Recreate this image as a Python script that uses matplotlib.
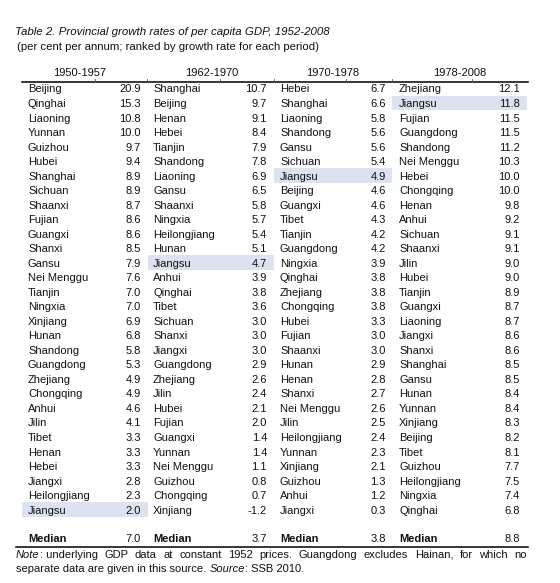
import matplotlib.pyplot as plt
from matplotlib.patches import Rectangle

plt.rcParams['font.family'] = ['Liberation Sans', 'DejaVu Sans']

periods = ['1950-1957', '1962-1970', '1970-1978', '1978-2008']

names_5057 = ['Beijing', 'Qinghai', 'Liaoning', 'Yunnan', 'Guizhou', 'Hubei', 'Shanghai',
              'Sichuan', 'Shaanxi', 'Fujian', 'Guangxi', 'Shanxi', 'Gansu', 'Nei Menggu',
              'Tianjin', 'Ningxia', 'Xinjiang', 'Hunan', 'Shandong', 'Guangdong', 'Zhejiang',
              'Chongqing', 'Anhui', 'Jilin', 'Tibet', 'Henan', 'Hebei', 'Jiangxi',
              'Heilongjiang', 'Jiangsu']
vals_5057 = [20.9, 15.3, 10.8, 10.0, 9.7, 9.4, 8.9, 8.9, 8.7, 8.6, 8.6, 8.5, 7.9, 7.6,
             7.0, 7.0, 6.9, 6.8, 5.8, 5.3, 4.9, 4.9, 4.6, 4.1, 3.3, 3.3, 3.3, 2.8, 2.3, 2.0]

names_6270 = ['Shanghai', 'Beijing', 'Henan', 'Hebei', 'Tianjin', 'Shandong', 'Liaoning',
              'Gansu', 'Shaanxi', 'Ningxia', 'Heilongjiang', 'Hunan', 'Jiangsu', 'Anhui',
              'Qinghai', 'Tibet', 'Sichuan', 'Shanxi', 'Jiangxi', 'Guangdong', 'Zhejiang',
              'Jilin', 'Hubei', 'Fujian', 'Guangxi', 'Yunnan', 'Nei Menggu', 'Guizhou',
              'Chongqing', 'Xinjiang']
vals_6270 = [10.7, 9.7, 9.1, 8.4, 7.9, 7.8, 6.9, 6.5, 5.8, 5.7, 5.4, 5.1, 4.7, 3.9,
             3.8, 3.6, 3.0, 3.0, 3.0, 2.9, 2.6, 2.4, 2.1, 2.0, 1.4, 1.4, 1.1, 0.8, 0.7, -1.2]

names_7078 = ['Hebei', 'Shanghai', 'Liaoning', 'Shandong', 'Gansu', 'Sichuan', 'Jiangsu',
              'Beijing', 'Guangxi', 'Tibet', 'Tianjin', 'Guangdong', 'Ningxia', 'Qinghai',
              'Zhejiang', 'Chongqing', 'Hubei', 'Fujian', 'Shaanxi', 'Hunan', 'Henan',
              'Shanxi', 'Nei Menggu', 'Jilin', 'Heilongjiang', 'Yunnan', 'Xinjiang',
              'Guizhou', 'Anhui', 'Jiangxi']
vals_7078 = [6.7, 6.6, 5.8, 5.6, 5.6, 5.4, 4.9, 4.6, 4.6, 4.3, 4.2, 4.2, 3.9, 3.8,
             3.8, 3.8, 3.3, 3.0, 3.0, 2.9, 2.8, 2.7, 2.6, 2.5, 2.4, 2.3, 2.1, 1.3, 1.2, 0.3]

names_7808 = ['Zhejiang', 'Jiangsu', 'Fujian', 'Guangdong', 'Shandong', 'Nei Menggu', 'Hebei',
              'Chongqing', 'Henan', 'Anhui', 'Sichuan', 'Shaanxi', 'Jilin', 'Hubei',
              'Tianjin', 'Guangxi', 'Liaoning', 'Jiangxi', 'Shanxi', 'Shanghai', 'Gansu',
              'Hunan', 'Yunnan', 'Xinjiang', 'Beijing', 'Tibet', 'Guizhou', 'Heilongjiang',
              'Ningxia', 'Qinghai']
vals_7808 = [12.1, 11.8, 11.5, 11.5, 11.2, 10.3, 10.0, 10.0, 9.8, 9.2, 9.1, 9.1, 9.0, 9.0,
             8.9, 8.7, 8.7, 8.6, 8.6, 8.5, 8.5, 8.4, 8.4, 8.3, 8.2, 8.1, 7.7, 7.5, 7.4, 6.8]

medians = [7.0, 3.7, 3.8, 8.8]
highlight = 'Jiangsu'

columns = [(names_5057, vals_5057), (names_6270, vals_6270),
           (names_7078, vals_7078), (names_7808, vals_7808)]

# layout (pixel coordinates, y measured from top)
name_x = [28, 153, 280, 399]
val_x = [141, 267, 386, 520]
box_x = [(22, 148), (148, 274), (274, 392), (392, 527)]
head_x = [80, 212, 333, 460]
row0, step = 88.5, 14.52
median_y = 538
base = 4.0   # baseline offset below row centre
fs = 8
ink = '#111111'

fig = plt.figure(figsize=(5.6, 5.83), dpi=100)
ax = fig.add_axes([0, 0, 1, 1])
ax.set_xlim(0, 560)
ax.set_ylim(583, 0)
ax.axis('off')

ax.text(15, 31 + base, 'Table 2. Provincial growth rates of per capita GDP, 1952-2008',
        fontsize=8.25, style='italic', va='baseline', color=ink)
ax.text(17, 46 + base, '(per cent per annum; ranked by growth rate for each period)',
        fontsize=8.2, va='baseline', color=ink)

for i, p in enumerate(periods):
    ax.text(head_x[i], 72.5 + base, p, fontsize=fs, ha='center', va='baseline', color=ink)

ax.plot([22, 528], [81.5, 81.5], color='black', lw=1.1)
for tx in [95, 147, 220, 274, 346, 392, 472]:
    ax.plot([tx, tx], [79, 81.5], color='#555555', lw=0.6)

for c, (names, vals) in enumerate(columns):
    for r, (n, v) in enumerate(zip(names, vals)):
        y = row0 + r * step
        if n == highlight:
            x0, x1 = box_x[c]
            ax.add_patch(Rectangle((x0, y - 7.3), x1 - x0, 14.6, color='#dce2f0', lw=0, zorder=0))
        ax.text(name_x[c], y + base, n, fontsize=fs, va='baseline', color=ink)
        ax.text(val_x[c], y + base, f'{v:.1f}', fontsize=fs, va='baseline', ha='right', color=ink)
    ax.text(name_x[c], median_y + base, 'Median', fontsize=fs, va='baseline', weight='bold',
            color=ink)
    ax.text(val_x[c], median_y + base, f'{medians[c]:.1f}', fontsize=fs, va='baseline',
            ha='right', color=ink)

ax.plot([16, 528], [547, 547], color='black', lw=1.1)

# justified first note line
note1 = [('Note', 'italic'), (': underlying', 'normal'), ('GDP', 'normal'), ('data', 'normal'),
         ('at', 'normal'), ('constant', 'normal'), ('1952', 'normal'), ('prices.', 'normal'),
         ('Guangdong', 'normal'), ('excludes', 'normal'), ('Hainan,', 'normal'),
         ('for', 'normal'), ('which', 'normal'), ('no', 'normal')]
fig.canvas.draw()
renderer = fig.canvas.get_renderer()
inv = ax.transData.inverted()
words = []
for w, st in note1:
    t = ax.text(16, 553.5 + base, w, fontsize=fs, style=st, va='baseline', color=ink)
    bb = t.get_window_extent(renderer)
    width = inv.transform((bb.x1, 0))[0] - inv.transform((bb.x0, 0))[0]
    words.append((t, width))
# "Note" + ": underlying" stay together
groups = [[words[0], words[1]]] + [[w] for w in words[2:]]
total = sum(w for g in groups for _, w in g)
gap = (527 - 16 - total) / (len(groups) - 1)
x = 16
for g in groups:
    for t, w in g:
        t.set_x(x)
        x += w
    x += gap

t2 = ax.text(16, 567.5 + base, 'separate data are given in this source. ', fontsize=fs,
             va='baseline', color=ink)
bb = t2.get_window_extent(renderer)
xs = inv.transform((bb.x1, 0))[0]
t3 = ax.text(xs, 567.5 + base, 'Source', fontsize=fs, style='italic', va='baseline', color=ink)
bb = t3.get_window_extent(renderer)
xs2 = inv.transform((bb.x1, 0))[0]
ax.text(xs2, 567.5 + base, ': SSB 2010.', fontsize=fs, va='baseline', color=ink)

fig.savefig('out.png', dpi=100)
